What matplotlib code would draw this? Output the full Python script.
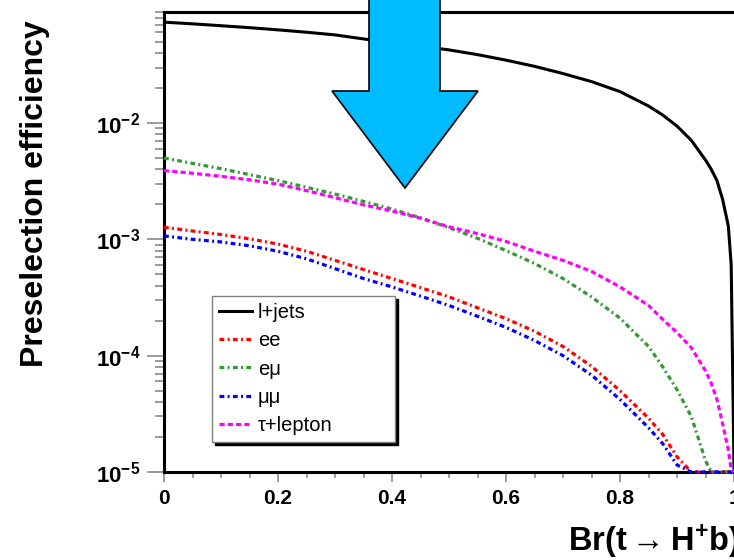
import matplotlib
matplotlib.use("Agg")
import matplotlib.pyplot as plt
from matplotlib.patches import Polygon
from matplotlib.ticker import FixedLocator, LogLocator, NullFormatter, MultipleLocator

plt.rcParams['font.family'] = ['Liberation Sans', 'DejaVu Sans']
plt.rcParams['mathtext.fontset'] = 'custom'
plt.rcParams['mathtext.rm'] = 'Liberation Sans:bold'
plt.rcParams['mathtext.bf'] = 'Liberation Sans:bold'
plt.rcParams['mathtext.it'] = 'Liberation Sans:bold:italic'

br = [0.0, 0.05, 0.1, 0.15, 0.2, 0.25, 0.3, 0.35, 0.4, 0.45, 0.5, 0.55, 0.6,
      0.65, 0.7, 0.75, 0.8, 0.85, 0.875, 0.9, 0.925, 0.95, 0.96, 0.97, 0.98,
      0.99, 0.995, 1.0]

ljets = [0.0736, 0.0712, 0.0686, 0.0660, 0.0632, 0.0603, 0.0572, 0.0528,
         0.0492, 0.0458, 0.0425, 0.0387, 0.0347, 0.0307, 0.0266, 0.0227,
         0.0186, 0.0140, 0.0117, 0.0094, 0.0071, 0.0048, 0.0040, 0.0032,
         0.0022, 0.0013, 0.0006, 1e-5]
ee = [1.27e-3, 1.18e-3, 1.10e-3, 1.01e-3, 9.1e-4, 7.9e-4, 6.6e-4, 5.5e-4,
      4.6e-4, 3.85e-4, 3.2e-4, 2.58e-4, 2.08e-4, 1.62e-4, 1.2e-4, 8.1e-5,
      5.0e-5, 2.9e-5, 2.1e-5, 1.35e-5, 1e-5, 1e-5, 1e-5, 1e-5, 1e-5,
      1e-5, 1e-5, 1e-5]
emu = [5.0e-3, 4.5e-3, 4.05e-3, 3.6e-3, 3.2e-3, 2.8e-3, 2.45e-3, 2.12e-3,
       1.82e-3, 1.53e-3, 1.26e-3, 1.02e-3, 8.0e-4, 6.2e-4, 4.6e-4, 3.2e-4,
       2.1e-4, 1.2e-4, 8.0e-5, 5.1e-5, 3.0e-5, 1.25e-5, 1e-5, 1e-5, 1e-5,
       1e-5, 1e-5, 1e-5]
mumu = [1.07e-3, 1.0e-3, 9.5e-4, 8.8e-4, 7.9e-4, 6.8e-4, 5.6e-4, 4.6e-4,
        3.9e-4, 3.25e-4, 2.7e-4, 2.18e-4, 1.75e-4, 1.35e-4, 1.0e-4, 6.8e-5,
        4.2e-5, 2.4e-5, 1.75e-5, 1.15e-5, 1e-5, 1e-5, 1e-5, 1e-5, 1e-5,
        1e-5, 1e-5, 1e-5]
taulep = [3.9e-3, 3.7e-3, 3.48e-3, 3.25e-3, 2.98e-3, 2.62e-3, 2.28e-3,
          1.98e-3, 1.75e-3, 1.52e-3, 1.28e-3, 1.12e-3, 9.6e-4, 7.9e-4,
          6.6e-4, 5.3e-4, 3.9e-4, 2.7e-4, 2.05e-4, 1.58e-4, 1.17e-4, 7.4e-5,
          5.8e-5, 4.2e-5, 2.6e-5, 1.55e-5, 1.05e-5, 1e-5]

labels = ["l+jets", "ee", "e\u03bc", "\u03bc\u03bc", "\u03c4+lepton"]
ytick_vals = [1e-5, 1e-4, 1e-3, 1e-2]
ytick_labels = [r'$\mathbf{10^{-5}}$', r'$\mathbf{10^{-4}}$',
                r'$\mathbf{10^{-3}}$', r'$\mathbf{10^{-2}}$']
xtick_vals = [0, 0.2, 0.4, 0.6, 0.8, 1.0]
xtick_labels = ["0", "0.2", "0.4", "0.6", "0.8", "1"]

W, H = 734, 560
fig = plt.figure(figsize=(W / 100, H / 100), dpi=100)
# axis frame: x=0 at 164 px, y from 12 px to 472 px (top-down)
ax = fig.add_axes([164 / W, 88 / H, 572.9 / W, 460 / H])

dashdot = (1.5, 1.05, 0.6, 1.05)
ax.plot(br, ljets, color='black', lw=2.2, label=labels[0], zorder=3)
ax.plot(br, ee, color='#ff0000', lw=2.3, dashes=dashdot, label=labels[1],
        clip_on=False, zorder=3)
ax.plot(br, emu, color='#339933', lw=2.3, dashes=dashdot, label=labels[2],
        clip_on=False, zorder=3)
ax.plot(br, mumu, color='#0000ff', lw=2.3, dashes=dashdot, label=labels[3],
        clip_on=False, zorder=3)
ax.plot(br, taulep, color='#ff00ff', lw=2.3, dashes=(1.6, 1.0),
        label=labels[4], clip_on=False, zorder=3)

ax.set_yscale('log')
ax.set_ylim(1e-5, 0.09)
ax.set_xlim(0, 1.005)

ax.yaxis.set_major_locator(FixedLocator(ytick_vals))
ax.set_yticklabels(ytick_labels)
ax.yaxis.set_minor_locator(LogLocator(base=10, subs=range(2, 10), numticks=20))
ax.yaxis.set_minor_formatter(NullFormatter())
ax.xaxis.set_major_locator(FixedLocator(xtick_vals))
ax.set_xticklabels(xtick_labels)
ax.xaxis.set_minor_locator(MultipleLocator(0.05))

ax.tick_params(axis='both', which='both', direction='out', color='0.5',
               width=1.1, labelsize=15)
ax.tick_params(axis='y', which='major', length=12, pad=5, labelsize=16)
ax.tick_params(axis='y', which='minor', length=6.5)
ax.tick_params(axis='x', which='major', length=7, pad=5)
ax.tick_params(axis='x', which='minor', length=4)
for lab in ax.get_xticklabels():
    lab.set_fontweight('bold')
for sp in ax.spines.values():
    sp.set_linewidth(2.2)

leg = ax.legend(loc='lower left', bbox_to_anchor=(0.084, 0.065, 0.319, 0.311),
                mode='expand', fontsize=14.5, frameon=True, fancybox=False,
                edgecolor='0.5', shadow={'color': 'black', 'alpha': 1},
                handlelength=1.65, handletextpad=0.3, labelspacing=0.47,
                borderpad=0.33, borderaxespad=0)
leg.get_frame().set_linewidth(1)
leg.set_zorder(5)

fig.text(35 / W, 1 - 20 / H, 'Preselection efficiency', rotation=90,
         ha='center', va='top', fontsize=23, fontweight='bold')
fig.text(740 / W, 9 / H, r'$\mathbf{Br(t \rightarrow H^{+}b)}$',
         ha='right', va='baseline', fontsize=23.5)

# big blue arrow drawn on top of the frame
arrow_px = [(369, -5), (440, -5), (440, 91), (478, 91), (405, 188),
            (332, 91), (369, 91)]
arrow = Polygon([(x / W, 1 - y / H) for x, y in arrow_px], closed=True,
                facecolor='#00bbff', edgecolor='black', lw=1.2,
                transform=fig.transFigure, zorder=10)
fig.add_artist(arrow)

fig.savefig('out.png', dpi=100)
